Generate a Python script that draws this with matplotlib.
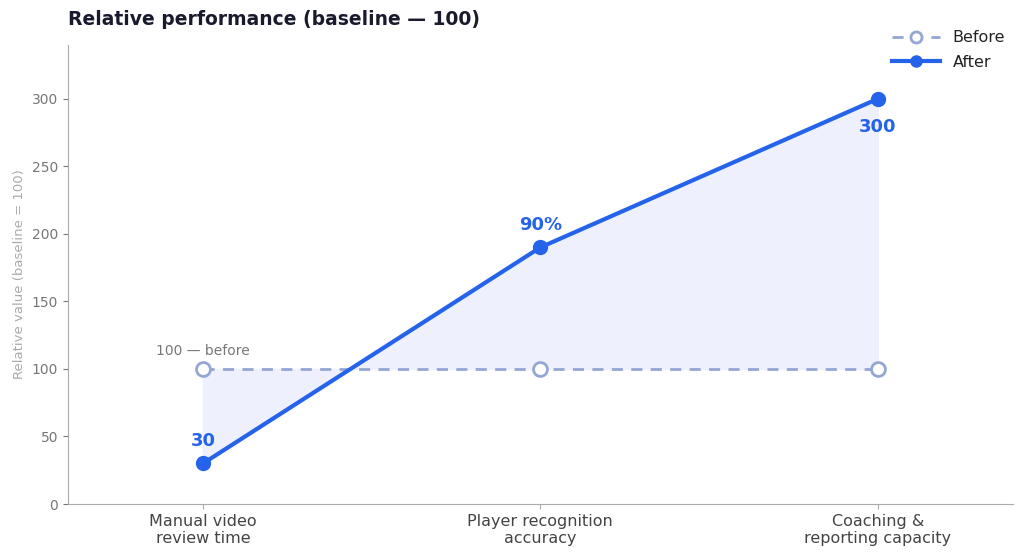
import matplotlib
matplotlib.use("Agg")
import matplotlib.pyplot as plt
import numpy as np

categories = ["Manual video\nreview time", "Player recognition\naccuracy", "Coaching &\nreporting capacity"]
before = [100, 100, 100]
after = [30, 190, 300]
after_labels = ["30", "90%", "300"]

C_AFTER = "#2563eb"
C_BEFORE = "#94a7d4"
C_FILL = "#eef1fd"
C_GREY = "#777777"

fig = plt.figure(figsize=(10.24, 5.6), dpi=100)
ax = fig.add_axes([0.0664, 0.1, 0.9226, 0.82])
x = np.arange(len(categories))

ax.fill_between(x, before, after, color=C_FILL, zorder=1)
ax.plot(x, before, linestyle=(0, (4, 3)), color=C_BEFORE, lw=2, marker="o",
        markersize=10, markerfacecolor="white", markeredgecolor=C_BEFORE,
        markeredgewidth=2, label="Before", zorder=2)
ax.plot(x, after, color=C_AFTER, lw=3, marker="o", markersize=10,
        markerfacecolor=C_AFTER, markeredgecolor=C_AFTER, label="After", zorder=3)

offsets = [16, 16, -20]
for xi, yi, lab, off in zip(x, after, after_labels, offsets):
    ax.annotate(lab, (xi, yi), xytext=(0, off), textcoords="offset points",
                ha="center", va="center", fontsize=13, fontweight="bold",
                color=C_AFTER)
ax.annotate("100 — before", (x[0], before[0]), xytext=(0, 13),
            textcoords="offset points", ha="center", va="center",
            fontsize=10, color=C_GREY)

ax.set_xlim(-0.4, 2.4)
ax.set_ylim(0, 340)
ax.set_yticks([0, 50, 100, 150, 200, 250, 300])
ax.set_xticks(x)
ax.set_xticklabels(categories, fontsize=11.5, color="#444444")
ax.tick_params(axis="y", labelsize=10, colors=C_GREY)
ax.tick_params(axis="x", colors="#aaaaaa", labelcolor="#444444")
ax.set_ylabel("Relative value (baseline = 100)", fontsize=9.5, color="#aaaaaa")
for s in ["top", "right"]:
    ax.spines[s].set_visible(False)
for s in ["left", "bottom"]:
    ax.spines[s].set_color("#aaaaaa")

fig.text(0.0664, 0.965, "Relative performance (baseline — 100)", fontsize=13.5,
         fontweight="bold", color="#1a1a2e", ha="left", va="center")

leg = ax.legend(loc="upper right", bbox_to_anchor=(1.007, 1.063), frameon=False,
                fontsize=11.5, handlelength=3, markerscale=0.8, labelspacing=0.6)
for t in leg.get_texts():
    t.set_color("#222222")

fig.savefig("out.png", dpi=100, facecolor="white")
